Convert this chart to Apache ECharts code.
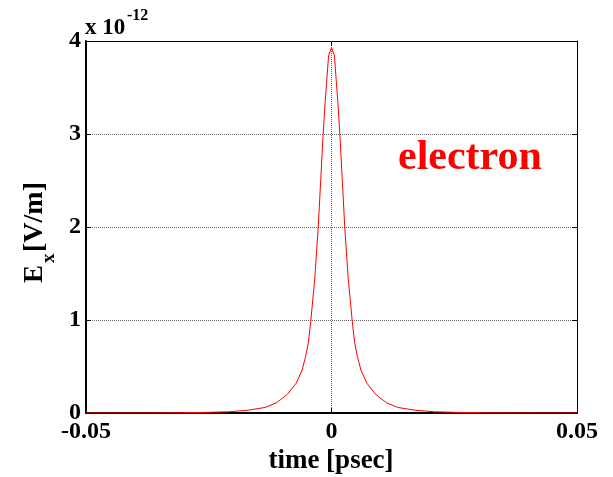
<!DOCTYPE html>
<html>
<head>
<meta charset="utf-8">
<script src="https://cdn.jsdelivr.net/npm/echarts@6/dist/echarts.min.js"></script>
<style>
  html, body { margin: 0; padding: 0; background: #fff; }
  #chart { width: 613px; height: 477px; }
</style>
</head>
<body>
<div id="chart"></div>
<script>
// time in psec, field in units of 1e-12 V/m
var times = [-0.05, -0.04, -0.032, -0.026, -0.021, -0.017, -0.0135, -0.0112, -0.009, -0.0072, -0.006, -0.0053, -0.0047, -0.0042, -0.0034, -0.0027, -0.0022, -0.0017, -0.0013, -0.001, -0.0006,
  0,
  0.0006, 0.001, 0.0013, 0.0017, 0.0022, 0.0027, 0.0034, 0.0042, 0.0047, 0.0053, 0.006, 0.0072, 0.009, 0.0112, 0.0135, 0.017, 0.021, 0.026, 0.032, 0.04, 0.05];
var fieldValues = [0, 0.001, 0.003, 0.006, 0.013, 0.03, 0.06, 0.11, 0.2, 0.32, 0.46, 0.6, 0.76, 1.0, 1.45, 2.0, 2.5, 3.0, 3.34, 3.55, 3.84,
  3.93,
  3.84, 3.55, 3.34, 3.0, 2.5, 2.0, 1.45, 1.0, 0.76, 0.6, 0.46, 0.32, 0.2, 0.11, 0.06, 0.03, 0.013, 0.006, 0.003, 0.001, 0];
var xTicks = ['-0.05', '0', '0.05'];
var yTicks = ['0', '1', '2', '3', '4'];

var chart = echarts.init(document.getElementById('chart'));

var serif = '"Liberation Serif", "DejaVu Serif", serif';
var lineData = times.map(function (t, i) { return [t, fieldValues[i]]; });

function tickLabelX(v) {
  var i = Math.round((v + 0.05) / 0.05);
  return xTicks[i] !== undefined ? xTicks[i] : '';
}

var option = {
  animation: false,
  backgroundColor: '#fff',
  grid: { left: 86, right: 36, top: 41, bottom: 64 },
  xAxis: [{
    type: 'value',
    min: -0.05,
    max: 0.05,
    interval: 0.05,
    position: 'bottom',
    axisLine: { show: true, onZero: false, lineStyle: { color: '#000', width: 2 } },
    axisTick: { show: true, inside: true, length: 5, lineStyle: { color: '#000' } },
    axisLabel: {
      margin: 7,
      formatter: tickLabelX,
      color: '#000',
      fontFamily: serif,
      fontWeight: 'bold',
      fontSize: 24
    },
    splitLine: { show: true, lineStyle: { color: '#666', type: 'dotted', width: 1 } }
  }, {
    type: 'value',
    min: -0.05,
    max: 0.05,
    interval: 0.05,
    position: 'top',
    axisLine: { show: true, onZero: false, lineStyle: { color: '#000', width: 1 } },
    axisTick: { show: true, inside: true, length: 5, lineStyle: { color: '#000' } },
    axisLabel: { show: false },
    splitLine: { show: false }
  }],
  yAxis: [{
    type: 'value',
    min: 0,
    max: 4,
    interval: 1,
    position: 'left',
    axisLine: { show: true, onZero: false, lineStyle: { color: '#000', width: 2 } },
    axisTick: { show: true, inside: true, length: 5, lineStyle: { color: '#000' } },
    axisLabel: {
      margin: 5,
      formatter: function (v) { return yTicks[Math.round(v)]; },
      color: '#000',
      fontFamily: serif,
      fontWeight: 'bold',
      fontSize: 24
    },
    splitLine: { show: true, lineStyle: { color: '#666', type: 'dotted', width: 1 } }
  }, {
    type: 'value',
    min: 0,
    max: 4,
    interval: 1,
    position: 'right',
    axisLine: { show: true, onZero: false, lineStyle: { color: '#000', width: 1 } },
    axisTick: { show: true, inside: true, length: 5, lineStyle: { color: '#000' } },
    axisLabel: { show: false },
    splitLine: { show: false }
  }],
  series: [{
    name: 'Ex',
    type: 'line',
    xAxisIndex: 0,
    yAxisIndex: 0,
    showSymbol: false,
    symbol: 'none',
    smooth: false,
    lineStyle: { color: '#ff0000', width: 1 },
    data: lineData
  }],
  graphic: [
    // multiplier
    { type: 'text', left: 85, top: 17, style: { text: 'x 10', font: 'bold 23px ' + serif, fill: '#000' } },
    { type: 'text', left: 127, top: 8, style: { text: '-12', font: 'bold 16px ' + serif, fill: '#000' } },
    // annotation
    { type: 'text', left: 398, top: 137, style: { text: 'electron', font: 'bold 42px ' + serif, fill: '#ff0000' } },
    // x axis title
    { type: 'text', x: 331, y: 461, style: { text: 'time [psec]', font: 'bold 27px ' + serif, fill: '#000', align: 'center', verticalAlign: 'middle' } },
    // y axis title, rotated
    { type: 'text', x: 35, y: 283, rotation: Math.PI / 2, style: { text: 'E', font: 'bold 27px ' + serif, fill: '#000', align: 'left', verticalAlign: 'middle' } },
    { type: 'text', x: 49, y: 263, rotation: Math.PI / 2, style: { text: 'x', font: 'bold 19px ' + serif, fill: '#000', align: 'left', verticalAlign: 'middle' } },
    { type: 'text', x: 35, y: 252, rotation: Math.PI / 2, style: { text: '[V/m]', font: 'bold 28px ' + serif, fill: '#000', align: 'left', verticalAlign: 'middle' } }
  ]
};

chart.setOption(option);
</script>
</body>
</html>
